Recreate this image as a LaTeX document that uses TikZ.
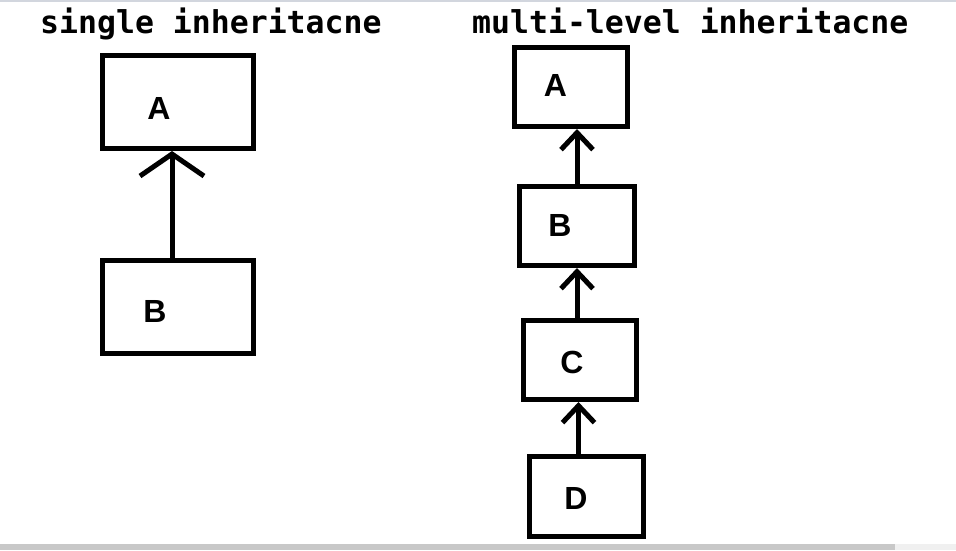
\documentclass[tikz,border=0pt]{standalone}
\usepackage{fontspec}
\setmainfont{Liberation Sans}
\newfontfamily\titlefont{DejaVu Sans Mono}
\usepackage{tikz}
\usetikzlibrary{positioning,arrows.meta}
\definecolor{barcol}{HTML}{C8C8C8}
\definecolor{barend}{HTML}{F0F0F0}
\definecolor{topline}{HTML}{D2D6DE}

\begin{document}
\begin{tikzpicture}[x=1pt,y=-1pt,
title/.style={anchor=base west,inner sep=0pt,font=\titlefont\bfseries\fontsize{31.5}{36}\selectfont},
lbl/.style={inner sep=0pt,font=\bfseries\fontsize{32}{36}\selectfont},
box/.style={draw,rectangle,line width=5pt,minimum width=114pt,minimum height=79pt},
bigbox/.style={box,minimum width=151pt,minimum height=93pt},
inh/.style={line width=5pt,-{Straight Barb[length=17pt,width=32pt]}},
biginh/.style={inh,-{Straight Barb[length=22pt,width=64pt]}}]
\useasboundingbox (0,0) rectangle (956,550);
\fill[topline] (0,0) rectangle (956,2);
\fill[barcol] (0,544) rectangle (895,550);
\fill[barend] (895,544) rectangle (956,550);
\node (stitle) [title] at (40,33) {single inheritacne};
\node (mtitle) [title] at (472,33) {multi-level inheritacne};
\node (sa) [bigbox,
    label={[lbl,xshift=-19pt,yshift=-6.5pt]center:A}] at (178,102) {};
\node (sb) [bigbox,
    label={[lbl,xshift=-23pt,yshift=-5pt]center:B}] at (178,306.5) {};
\node (ma) [box,minimum width=113pt,
    label={[lbl,xshift=-15.5pt,yshift=1.5pt]center:A}] at (571,87) {};
\node (mb) [box,minimum width=115pt,
    label={[lbl,xshift=-17pt,yshift=1pt]center:B}] at (577,226) {};
\node (mc) [box,minimum width=113pt,
    label={[lbl,xshift=-8pt,yshift=-2.5pt]center:C}] at (580,360) {};
\node (md) [box,minimum height=80pt,
    label={[lbl,xshift=-10.5pt,yshift=-1.5pt]center:D}] at (586.5,496.5) {};
\draw[biginh] ([xshift=-6pt]sb.north) -- ([xshift=-6pt]sa.south);
\draw[inh] (mb.north) -- (mb.north |- ma.south);
\draw[inh] ([xshift=-3pt]mc.north) -- ([xshift=-3pt]mc.north |- mb.south);
\draw[inh] ([xshift=-8pt]md.north) -- ([xshift=-8pt]md.north |- mc.south);
\end{tikzpicture}
\end{document}
